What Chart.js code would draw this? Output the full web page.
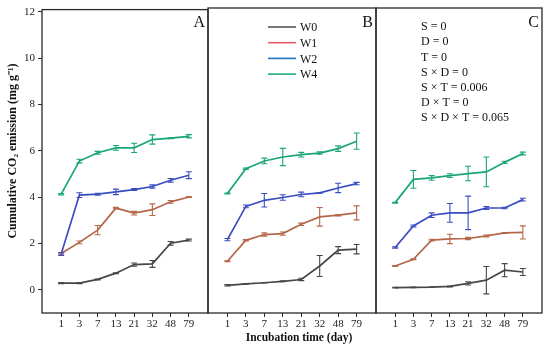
<!DOCTYPE html>
<html>
<head>
<meta charset="utf-8">
<script src="https://cdn.jsdelivr.net/npm/chart.js@4.4.1/dist/chart.umd.min.js"></script>
<style>
  body { margin: 0; background: #fff; }
  #wrap { position: relative; width: 550px; height: 348px; overflow: hidden; }
  canvas { position: absolute; top: 0; }
</style>
</head>
<body>
<div id="wrap">
  <canvas id="panelA" width="211" height="348" style="left:0"></canvas>
  <canvas id="panelB" width="172" height="348" style="left:206px"></canvas>
  <canvas id="panelC" width="177" height="348" style="left:373px"></canvas>
</div>
<script>
// incubation days (x categories) and y ticks
const days = ['1', '3', '7', '13', '21', '32', '48', '79'];
const yTicks = [0, 2, 4, 6, 8, 10, 12];
const seriesNames = ['W0', 'W1', 'W2', 'W4'];

// panel A
const panelA_W0 = [0.29, 0.29, 0.45, 0.72, 1.09, 1.12, 2.01, 2.15];
const panelA_W0_sd = [0.02, 0.02, 0.02, 0.02, 0.07, 0.15, 0.08, 0.04];
const panelA_W1 = [1.57, 2.05, 2.58, 3.53, 3.31, 3.46, 3.80, 4.01];
const panelA_W1_sd = [0.03, 0.06, 0.20, 0.03, 0.08, 0.25, 0.06, 0.02];
const panelA_W2 = [1.55, 4.09, 4.13, 4.23, 4.33, 4.46, 4.73, 4.95];
const panelA_W2_sd = [0.06, 0.10, 0.04, 0.12, 0.04, 0.07, 0.08, 0.15];
const panelA_W4 = [4.13, 5.56, 5.92, 6.13, 6.13, 6.49, 6.55, 6.63];
const panelA_W4_sd = [0.03, 0.08, 0.06, 0.10, 0.20, 0.20, 0.02, 0.07];

// panel B
const panelB_W0 = [0.19, 0.25, 0.30, 0.36, 0.44, 1.02, 1.70, 1.74];
const panelB_W0_sd = [0.03, 0.01, 0.01, 0.02, 0.05, 0.45, 0.15, 0.20];
const panelB_W1 = [1.22, 2.12, 2.37, 2.41, 2.81, 3.13, 3.20, 3.30];
const panelB_W1_sd = [0.02, 0.03, 0.07, 0.07, 0.05, 0.40, 0.03, 0.30];
const panelB_W2 = [2.15, 3.58, 3.84, 3.96, 4.09, 4.16, 4.37, 4.56];
const panelB_W2_sd = [0.05, 0.06, 0.29, 0.12, 0.10, 0.01, 0.20, 0.05];
const panelB_W4 = [4.13, 5.20, 5.53, 5.70, 5.80, 5.87, 6.06, 6.38];
const panelB_W4_sd = [0.02, 0.03, 0.12, 0.37, 0.10, 0.05, 0.12, 0.35];

// panel C
const panelC_W0 = [0.09, 0.10, 0.11, 0.14, 0.27, 0.41, 0.84, 0.76];
const panelC_W0_sd = [0.01, 0.01, 0.01, 0.02, 0.07, 0.59, 0.28, 0.15];
const panelC_W1 = [1.02, 1.31, 2.13, 2.18, 2.20, 2.31, 2.44, 2.46];
const panelC_W1_sd = [0.02, 0.02, 0.04, 0.20, 0.05, 0.04, 0.02, 0.28];
const panelC_W2 = [1.81, 2.74, 3.20, 3.30, 3.30, 3.51, 3.51, 3.87];
const panelC_W2_sd = [0.03, 0.04, 0.10, 0.40, 0.72, 0.06, 0.03, 0.06];
const panelC_W4 = [3.74, 4.74, 4.80, 4.90, 4.99, 5.06, 5.47, 5.85];
const panelC_W4_sd = [0.02, 0.38, 0.10, 0.08, 0.31, 0.64, 0.05, 0.06];

// ANOVA p-values printed in panel C
const statsLines = ['S = 0', 'D = 0', 'T = 0', 'S × D = 0', 'S × T = 0.006', 'D × T = 0', 'S × D × T = 0.065'];

const lineColors = ['#474747', '#b5674a', '#3a4cc2', '#19a674'];
const legendColors = ['#555555', '#ee5a64', '#2272c3', '#1fab7e'];
const axisColor = '#2a2a2a';
const serif = "'Liberation Serif', 'Times New Roman', serif";

// frame round the plot area
const framePlugin = {
  id: 'frame',
  afterDraw(chart) {
    const { ctx, chartArea: a } = chart;
    ctx.save();
    ctx.strokeStyle = axisColor;
    ctx.lineWidth = 1.3;
    ctx.strokeRect(a.left, a.top, a.right - a.left, a.bottom - a.top);
    ctx.restore();
  }
};

// vertical error bars with caps
const errorBarPlugin = {
  id: 'errorBars',
  afterDatasetsDraw(chart) {
    const { ctx, scales: { x, y } } = chart;
    ctx.save();
    ctx.lineWidth = 1.1;
    chart.data.datasets.forEach(ds => {
      ctx.strokeStyle = ds.borderColor;
      ds.data.forEach((p, i) => {
        const sd = ds.sd[i];
        const px = x.getPixelForValue(p.x);
        const top = y.getPixelForValue(p.y + sd);
        const bot = y.getPixelForValue(p.y - sd);
        ctx.beginPath();
        ctx.moveTo(px, top); ctx.lineTo(px, bot);
        ctx.moveTo(px - 3, top); ctx.lineTo(px + 3, top);
        ctx.moveTo(px - 3, bot); ctx.lineTo(px + 3, bot);
        ctx.stroke();
      });
    });
    ctx.restore();
  }
};

function makePanel(id, letter, values, sds, showY, padding, extraDraw) {
  const datasets = values.map((vals, s) => ({
    label: seriesNames[s],
    data: vals.map((v, i) => ({ x: i, y: v })),
    sd: sds[s],
    borderColor: lineColors[s],
    borderWidth: 1.7,
    pointRadius: 0,
    tension: 0,
    fill: false
  }));

  const textPlugin = {
    id: 'panelText',
    afterDraw(chart) {
      const { ctx, chartArea: a } = chart;
      ctx.save();
      ctx.fillStyle = '#111';
      ctx.font = '16px ' + serif;
      ctx.textAlign = 'right';
      ctx.textBaseline = 'middle';
      ctx.fillText(letter, a.right - 3, 23);
      if (extraDraw) extraDraw(chart, ctx, a);
      ctx.restore();
    }
  };

  return new Chart(document.getElementById(id), {
    type: 'line',
    data: { datasets },
    plugins: [framePlugin, errorBarPlugin, textPlugin],
    options: {
      responsive: false,
      animation: false,
      layout: { padding: { top: 8, bottom: 0, left: padding[0], right: padding[1] } },
      plugins: { legend: { display: false }, tooltip: { enabled: false } },
      scales: {
        x: {
          type: 'linear',
          min: -1.05,
          max: 8.05,
          afterBuildTicks: scale => { scale.ticks = days.map((d, i) => ({ value: i })); },
          afterFit: scale => { scale.height = 35; },
          grid: { drawOnChartArea: false, drawTicks: true, tickLength: 4, color: axisColor, lineWidth: 1 },
          border: { display: false },
          ticks: {
            color: '#222',
            padding: 1,
            font: { family: serif, size: 11 },
            callback: v => days[v]
          }
        },
        y: {
          display: showY,
          min: -1,
          max: 12.1,
          afterBuildTicks: scale => { scale.ticks = yTicks.map(v => ({ value: v })); },
          afterFit: scale => { if (showY) scale.width = 42; },
          grid: { drawOnChartArea: false, drawTicks: true, tickLength: 4, color: axisColor, lineWidth: 1 },
          border: { display: false },
          ticks: { color: '#222', padding: 3, font: { family: serif, size: 11 } }
        }
      }
    }
  });
}

makePanel('panelA', 'A',
  [panelA_W0, panelA_W1, panelA_W2, panelA_W4],
  [panelA_W0_sd, panelA_W1_sd, panelA_W2_sd, panelA_W4_sd],
  true, [0, 3],
  (chart, ctx, a) => {
    // y axis title, a little above the centre as in the original
    ctx.translate(13, 151);
    ctx.rotate(-Math.PI / 2);
    ctx.textAlign = 'center';
    ctx.font = 'bold 12px ' + serif;
    ctx.fillText('Cumulative CO₂ emission (mg g⁻¹)', 0, 0);
  });

makePanel('panelB', 'B',
  [panelB_W0, panelB_W1, panelB_W2, panelB_W4],
  [panelB_W0_sd, panelB_W1_sd, panelB_W2_sd, panelB_W4_sd],
  false, [2, 2],
  (chart, ctx, a) => {
    // legend
    ctx.font = '12px ' + serif;
    ctx.textAlign = 'left';
    ctx.lineWidth = 1.6;
    seriesNames.forEach((name, i) => {
      const yy = 27 + i * 15.7;
      ctx.strokeStyle = legendColors[i];
      ctx.beginPath();
      ctx.moveTo(a.left + 60, yy); ctx.lineTo(a.left + 88, yy);
      ctx.stroke();
      ctx.fillStyle = '#111';
      ctx.fillText(name, a.left + 92, yy + 1);
    });
    // x axis title
    ctx.font = 'bold 11.5px ' + serif;
    ctx.textAlign = 'center';
    ctx.fillText('Incubation time (day)', (a.left + a.right) / 2 + 7, 338);
  });

makePanel('panelC', 'C',
  [panelC_W0, panelC_W1, panelC_W2, panelC_W4],
  [panelC_W0_sd, panelC_W1_sd, panelC_W2_sd, panelC_W4_sd],
  false, [3, 8],
  (chart, ctx, a) => {
    ctx.font = '12px ' + serif;
    ctx.textAlign = 'left';
    statsLines.forEach((t, i) => ctx.fillText(t, a.left + 45, 27 + i * 15.2));
  });
</script>
</body>
</html>
